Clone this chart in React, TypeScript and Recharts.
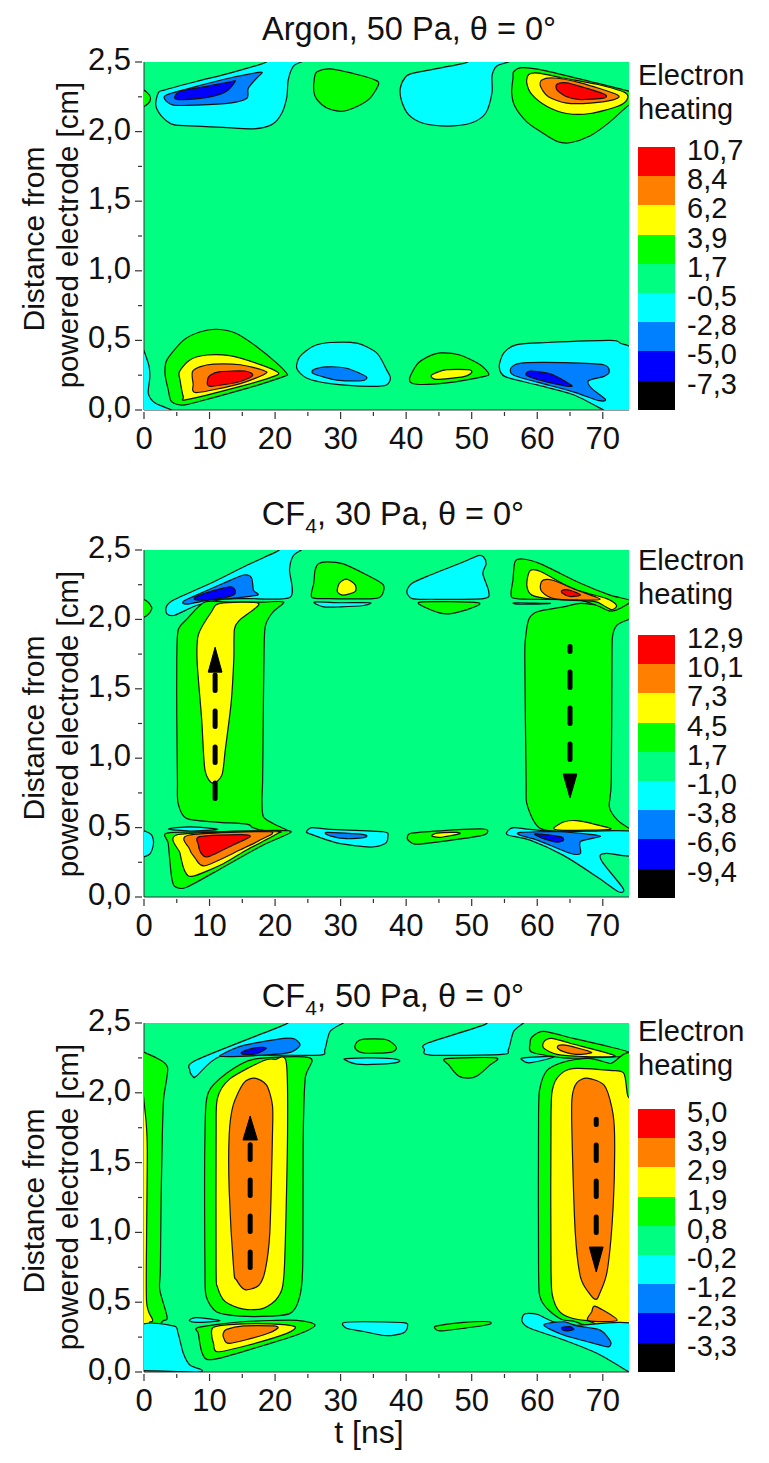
import React from 'react';
import { ScatterChart, Scatter, XAxis, YAxis, CartesianGrid } from 'recharts';

type Pt = [number, number];
type Contour = [number, Pt[]];

// colour bands, top of the legend first
const bandColors = ['#ff0000', '#ff8000', '#ffff00', '#00ff00', '#00ff80', '#00ffff', '#0080ff', '#0000ff', '#000000'];
const RED = 0, ORANGE = 1, YELLOW = 2, GREEN = 3, CYAN = 5, AZURE = 6, BLUE = 7;

const legendArgon = ['10,7', '8,4', '6,2', '3,9', '1,7', '-0,5', '-2,8', '-5,0', '-7,3'];
const legendCf430 = ['12,9', '10,1', '7,3', '4,5', '1,7', '-1,0', '-3,8', '-6,6', '-9,4'];
const legendCf450 = ['5,0', '3,9', '2,9', '1,9', '0,8', '-0,2', '-1,2', '-2,3', '-3,3'];

const xTicks = [0, 5, 10, 15, 20, 25, 30, 35, 40, 45, 50, 55, 60, 65, 70];
const yTicks = [0, 0.25, 0.5, 0.75, 1, 1.25, 1.5, 1.75, 2, 2.25, 2.5];

const argonContours: Contour[] = [
  [GREEN, [[-0.5, 2.3], [0.5, 2.28], [1, 2.24], [0.6, 2.2], [-0.5, 2.18]]],
  [CYAN, [[25, 2.52], [24, 2.5], [22.8, 2.47], [22, 2.37], [21.8, 2.25], [21, 2.13], [19.5, 2.05], [16.7, 2.02], [12.1, 2.03], [8, 2.04], [4.5, 2.05], [2.7, 2.11], [1.8, 2.19], [2.2, 2.28], [3.2, 2.3], [8, 2.36], [13.1, 2.42], [18.2, 2.49], [19.7, 2.52]]],
  [AZURE, [[18, 2.42], [17.2, 2.385], [15.9, 2.31], [15.7, 2.24], [13.1, 2.205], [8, 2.19], [4.5, 2.19], [3.2, 2.23], [3.5, 2.265], [8, 2.325], [13.1, 2.385], [17.5, 2.425]]],
  [BLUE, [[13.9, 2.36], [12.6, 2.29], [10.1, 2.25], [6, 2.23], [4.7, 2.24], [5.5, 2.29], [9.6, 2.325], [13.4, 2.36]]],
  [GREEN, [[26.4, 2.43], [28.4, 2.45], [32.5, 2.41], [35.3, 2.37], [35.8, 2.34], [34.5, 2.24], [32.5, 2.18], [30.2, 2.145], [27.9, 2.17], [26.4, 2.23], [25.9, 2.29], [26, 2.385]]],
  [CYAN, [[56, 2.52], [55.6, 2.5], [53.8, 2.47], [53.1, 2.4], [53.1, 2.28], [52.1, 2.13], [49.8, 2.06], [46.2, 2.04], [42.6, 2.06], [40.4, 2.12], [39.3, 2.22], [39.1, 2.31], [39.8, 2.385], [41.1, 2.42], [48.8, 2.49], [50.3, 2.52]]],
  [GREEN, [[56.4, 2.43], [57.7, 2.46], [61, 2.44], [68.1, 2.36], [74, 2.29], [75, 2.26], [75, 2.17], [74, 2.19], [71.1, 2.07], [68.1, 1.97], [65, 1.92], [63, 1.93], [60.5, 2], [58.4, 2.07], [56.6, 2.18], [56.1, 2.28], [56.3, 2.385]]],
  [YELLOW, [[58.7, 2.41], [60.2, 2.42], [64, 2.385], [69.1, 2.34], [73.4, 2.28], [73.7, 2.23], [72.2, 2.18], [68.1, 2.13], [64.5, 2.13], [61.5, 2.18], [59.2, 2.265], [58.4, 2.35]]],
  [ORANGE, [[60.7, 2.37], [62.5, 2.385], [66.6, 2.35], [72.2, 2.265], [71.7, 2.23], [68.1, 2.205], [64.5, 2.205], [61.7, 2.25], [60.5, 2.325]]],
  [RED, [[63, 2.34], [64.5, 2.35], [67.6, 2.31], [70.4, 2.265], [70.1, 2.24], [66.6, 2.23], [64.5, 2.25], [63, 2.3]]],
  [CYAN, [[-0.5, 0.44], [0.66, 0.335], [0.9, 0.24], [0.66, 0.12], [1.7, 0.05], [4.2, 0], [4.5, -0.03], [-0.5, -0.03]]],
  [GREEN, [[11.1, 0.58], [14.1, 0.55], [17.2, 0.455], [20.3, 0.335], [21.8, 0.26], [21.3, 0.24], [15.7, 0.155], [9.1, 0.07], [6, 0.035], [4.2, 0.06], [3.7, 0.145], [3.2, 0.26], [3.5, 0.36], [6, 0.5], [8.5, 0.56]]],
  [YELLOW, [[9.6, 0.395], [13.1, 0.39], [17.2, 0.335], [20.3, 0.275], [20, 0.245], [14.7, 0.17], [6.5, 0.075], [6, 0.095], [5.5, 0.215], [5.4, 0.275], [7, 0.36]]],
  [ORANGE, [[10.6, 0.33], [14.7, 0.325], [18.2, 0.285], [18.5, 0.26], [14.7, 0.19], [8, 0.125], [7.5, 0.19], [7.4, 0.275], [8.5, 0.31]]],
  [RED, [[11.6, 0.275], [15.4, 0.28], [16.6, 0.25], [14.7, 0.205], [10.1, 0.17], [9.7, 0.215], [10.1, 0.25]]],
  [CYAN, [[28.4, 0.485], [32.5, 0.48], [35.5, 0.41], [37, 0.29], [37.6, 0.23], [37, 0.18], [34.5, 0.17], [28.4, 0.19], [24.8, 0.23], [23.3, 0.3], [23.8, 0.385], [25.9, 0.46]]],
  [AZURE, [[27.9, 0.31], [30.9, 0.3], [33.9, 0.24], [33.2, 0.21], [29.4, 0.215], [25.9, 0.26], [25.9, 0.29]]],
  [GREEN, [[45.2, 0.41], [48.2, 0.395], [51.3, 0.325], [52.6, 0.26], [51.8, 0.24], [46.2, 0.195], [41.6, 0.185], [40.5, 0.22], [41.6, 0.325], [43.2, 0.38]]],
  [YELLOW, [[46.2, 0.29], [49.5, 0.29], [50, 0.27], [48.8, 0.24], [44.7, 0.22], [43.8, 0.245], [44.7, 0.27]]],
  [CYAN, [[56.9, 0.47], [61.5, 0.485], [71.1, 0.5], [72.7, 0.48], [75, 0.4], [75, -0.05], [71, -0.03], [70.1, 0], [65.5, 0.11], [60, 0.18], [55.1, 0.24], [54.2, 0.31], [54.9, 0.41]]],
  [AZURE, [[58.4, 0.34], [64, 0.34], [70.1, 0.325], [71, 0.275], [70.1, 0.24], [67.8, 0.21], [68.3, 0.155], [70.4, 0.077], [69.4, 0.067], [65.5, 0.13], [60, 0.2], [56.4, 0.25], [55.9, 0.29], [56.6, 0.325]]],
  [BLUE, [[58.9, 0.28], [62, 0.26], [64.5, 0.2], [65.3, 0.17], [63.5, 0.18], [60, 0.22], [58.3, 0.25]]],
];

const cf430Contours: Contour[] = [
  [GREEN, [[-0.5, 2.14], [0.5, 2.13], [1.2, 2.08], [0.5, 2.03], [-0.5, 2.02]]],
  [CYAN, [[24.5, 2.53], [24, 2.5], [22.8, 2.46], [22.2, 2.36], [22.3, 2.16], [15.7, 2.15], [12.1, 2.145], [8, 2.1], [4.7, 2.03], [3.5, 2.04], [3.4, 2.09], [4.5, 2.14], [10.6, 2.27], [15.7, 2.39], [20.3, 2.49], [21.5, 2.53]]],
  [AZURE, [[15.2, 2.32], [16.4, 2.3], [16.7, 2.21], [17.3, 2.175], [13.1, 2.15], [10.1, 2.14], [6.5, 2.11], [6, 2.13], [8, 2.175], [12.1, 2.26]]],
  [BLUE, [[13.1, 2.235], [13.9, 2.21], [13.6, 2.175], [10.6, 2.145], [8, 2.14], [7.8, 2.16], [10.1, 2.2]]],
  [GREEN, [[26.6, 2.4], [27.9, 2.415], [30.4, 2.4], [34, 2.32], [36.5, 2.25], [36.3, 2.175], [35, 2.15], [28.4, 2.15], [25.6, 2.16], [25.9, 2.26], [26.1, 2.355]]],
  [YELLOW, [[30.9, 2.29], [32.2, 2.25], [32.2, 2.2], [30.4, 2.175], [29.5, 2.2], [29.8, 2.26]]],
  [CYAN, [[26, 2.125], [30, 2.12], [34.5, 2.12], [33.5, 2.1], [30, 2.09], [27.4, 2.09]]],
  [CYAN, [[51.8, 2.45], [52.2, 2.4], [51.7, 2.33], [52.6, 2.2], [51.8, 2.15], [43.7, 2.145], [40.9, 2.15], [40.1, 2.2], [40.9, 2.26], [43.7, 2.32], [48.8, 2.415], [51, 2.46]]],
  [GREEN, [[42.1, 2.125], [51, 2.12], [49.3, 2.07], [46.2, 2.04], [43.7, 2.07]]],
  // right column first, the upper lobe sits on top of it
  [GREEN, [[66.6, 2.115], [64, 2.09], [60, 2.055], [58.7, 2], [58.2, 1.86], [58.1, 1.71], [58.3, 0.84], [58.4, 0.675], [59.7, 0.53], [61.5, 0.48], [69.1, 0.465], [75, 0.475], [74, 0.495], [72.2, 0.555], [71, 0.65], [71.3, 0.84], [71.4, 1.71], [71.5, 1.88], [72.2, 1.96], [74, 2], [75, 2.02], [75, 2.12], [72.7, 2.1], [70, 2.1]]],
  [GREEN, [[56.6, 2.415], [57.7, 2.435], [60.5, 2.4], [66.6, 2.26], [71.1, 2.175], [74.2, 2.135], [72.7, 2.08], [71.1, 2.06], [69.1, 2.1], [66.1, 2.14], [58.9, 2.145], [56.1, 2.16], [56.3, 2.285]]],
  [YELLOW, [[58.9, 2.35], [60.5, 2.345], [65.5, 2.22], [70.6, 2.15], [72.1, 2.1], [71.4, 2.07], [70.1, 2.1], [68.6, 2.13], [62.5, 2.145], [59.2, 2.175], [58.4, 2.25]]],
  [ORANGE, [[61, 2.285], [62.5, 2.28], [66.1, 2.21], [69.6, 2.145], [66.1, 2.14], [62.5, 2.15], [60.7, 2.2], [60.5, 2.25]]],
  [RED, [[63.8, 2.21], [65, 2.21], [66.6, 2.175], [65, 2.165], [63.8, 2.19]]],
  [CYAN, [[56.6, 2.12], [62, 2.115], [59, 2.11], [56.9, 2.11]]],
  // left column
  [GREEN, [[9.3, 2.125], [13.1, 2.125], [18, 2.125], [21.3, 2.125], [19.7, 2.055], [18.5, 1.95], [18.3, 1.71], [18.2, 1.3], [18.1, 0.84], [18, 0.7], [18.2, 0.58], [19.7, 0.53], [22.3, 0.465], [18.2, 0.48], [16.6, 0.5], [15.7, 0.525], [11.1, 0.54], [6.5, 0.565], [5.2, 0.675], [5.1, 0.84], [5, 1.3], [5, 1.71], [5.2, 1.92], [6.5, 2]]],
  [YELLOW, [[11.6, 2.115], [17.5, 2.115], [14.7, 2], [13.8, 1.93], [13.7, 1.71], [13.3, 1.4], [12.4, 1.06], [11.9, 0.88], [10.5, 0.82], [9.3, 0.915], [8.8, 1.28], [8.1, 1.7], [8.3, 1.89], [10.3, 2.055]]],
  [GREEN, [[3.5, 0.46], [10.6, 0.47], [20.3, 0.48], [22.4, 0.465], [18.2, 0.375], [12.1, 0.215], [6.5, 0.07], [4.7, 0.075], [4.2, 0.146], [3.7, 0.385]]],
  [YELLOW, [[5.2, 0.45], [19.7, 0.47], [20.3, 0.455], [15.7, 0.34], [12.1, 0.24], [7.5, 0.15], [6.3, 0.18], [5.5, 0.315]]],
  [ORANGE, [[6.8, 0.445], [19.2, 0.47], [17.7, 0.41], [14.7, 0.34], [9.3, 0.225], [7.8, 0.28], [6.9, 0.35]]],
  [RED, [[8.5, 0.435], [14.7, 0.45], [16.2, 0.435], [13.6, 0.375], [9.8, 0.29], [8.8, 0.31], [8.3, 0.375]]],
  [CYAN, [[-0.5, 0.47], [1.1, 0.45], [1.45, 0.385], [0.9, 0.31], [-0.5, 0.3]]],
  [CYAN, [[3.7, 0.49], [7, 0.505], [11.3, 0.487], [7, 0.475]]],
  [CYAN, [[25.6, 0.5], [28.4, 0.487], [36.5, 0.47], [37.2, 0.435], [36.8, 0.385], [34.5, 0.36], [29.4, 0.39], [25.3, 0.455], [24.8, 0.47]]],
  [AZURE, [[27.9, 0.465], [33.5, 0.45], [33.7, 0.43], [30.9, 0.42], [28.4, 0.44]]],
  [GREEN, [[40.9, 0.46], [46.2, 0.48], [51.8, 0.49], [52.4, 0.465], [51.3, 0.44], [46.2, 0.405], [41.6, 0.38], [40.4, 0.405], [40.2, 0.435]]],
  [YELLOW, [[44.7, 0.46], [47.7, 0.465], [48.1, 0.455], [45.2, 0.43], [43.9, 0.44]]],
  [YELLOW, [[62.5, 0.495], [64, 0.54], [66, 0.55], [69.1, 0.52], [71.1, 0.487], [64, 0.48]]],
  [CYAN, [[55.4, 0.47], [56.4, 0.5], [58.9, 0.487], [64, 0.47], [75, 0.47], [75, 0.3], [70.6, 0.315], [69.6, 0.3], [70.1, 0.24], [73.1, 0.062], [72.4, 0.038], [69.1, 0.146], [64, 0.3], [58.9, 0.41], [55.6, 0.445]]],
  [AZURE, [[57.4, 0.465], [63.5, 0.47], [69.6, 0.44], [66.6, 0.4], [66.6, 0.315], [65, 0.315], [60, 0.41], [57.4, 0.445]]],
  [BLUE, [[59.7, 0.455], [63.5, 0.435], [64, 0.41], [63, 0.395], [60.5, 0.43]]],
];

const cf450Contours: Contour[] = [
  [GREEN, [[-0.5, 2.3], [0, 2.29], [1.9, 2.25], [3.6, 2.18], [3, 1.96], [2.8, 1.7], [2.6, 1.2], [2.5, 0.73], [2.4, 0.59], [3.5, 0.4], [3, 0.37], [-0.5, 0.355]]],
  [YELLOW, [[-0.5, 1.98], [0.2, 1.85], [0.5, 1.6], [0.4, 1], [0.4, 0.5], [1.3, 0.375], [0.9, 0.36], [-0.5, 0.355]]],
  [CYAN, [[-0.5, 0.33], [4.5, 0.33], [5.2, 0.277], [6, 0.134], [7, 0.05], [8.8, 0.015], [8, 0], [0, 0.01], [-0.5, 0.01]]],
  [CYAN, [[31, 2.53], [30.4, 2.5], [28.4, 2.44], [27.6, 2.31], [26.9, 2.27], [19, 2.27], [11.6, 2.26], [8, 2.12], [7.5, 2.115], [7, 2.16], [8, 2.235], [21.3, 2.485], [22.5, 2.52]]],
  [AZURE, [[21.3, 2.39], [23, 2.385], [23.8, 2.34], [22.3, 2.29], [18.2, 2.27], [12.1, 2.26], [11.9, 2.275], [15.2, 2.34]]],
  [BLUE, [[18.2, 2.325], [18.6, 2.315], [17.2, 2.28], [15.2, 2.275], [14.9, 2.29], [16.7, 2.32]]],
  [GREEN, [[33.5, 2.385], [37, 2.38], [38.5, 2.325], [37.6, 2.29], [33.5, 2.285], [32.2, 2.32], [32.5, 2.365]]],
  [CYAN, [[30.9, 2.245], [35, 2.25], [38.6, 2.24], [38.8, 2.22], [36, 2.205], [32.5, 2.205], [30.7, 2.235]]],
  [CYAN, [[58.5, 2.53], [57.9, 2.5], [56.4, 2.44], [55.6, 2.31], [54.6, 2.275], [43.7, 2.27], [42.8, 2.31], [43.2, 2.355], [51.8, 2.485], [53, 2.53]]],
  [GREEN, [[46.1, 2.245], [53.7, 2.25], [52.8, 2.2], [50.8, 2.12], [49.5, 2.105], [48, 2.12], [46.5, 2.2]]],
  [GREEN, [[59.2, 2.4], [61, 2.44], [65.5, 2.39], [71, 2.33], [74, 2.29], [72.7, 2.26], [67.8, 2.25], [64, 2.25], [59.2, 2.29], [58.9, 2.35]]],
  [YELLOW, [[61, 2.365], [62.2, 2.39], [65, 2.355], [71.9, 2.265], [67, 2.26], [63, 2.275], [61, 2.32]]],
  [ORANGE, [[63.3, 2.34], [64.5, 2.34], [68.3, 2.29], [66, 2.275], [64, 2.295], [63.1, 2.32]]],
  [CYAN, [[57.9, 2.25], [62.5, 2.26], [61, 2.235], [58.7, 2.215], [57.7, 2.235]]],
  // left column
  [GREEN, [[16.7, 2.24], [25.3, 2.25], [24.6, 2.105], [24.3, 1.7], [24.2, 0.73], [23.6, 0.515], [22.3, 0.42], [19.2, 0.4], [14.7, 0.4], [11.1, 0.43], [9.5, 0.54], [9.3, 0.73], [9.3, 1.7], [9.8, 2], [12.6, 2.14]]],
  [YELLOW, [[20, 2.24], [21.7, 2.22], [21.9, 1.7], [21.4, 0.73], [20.5, 0.54], [18.2, 0.456], [15.2, 0.45], [12.4, 0.504], [11.2, 0.61], [11, 0.73], [11, 1.7], [11.2, 1.96], [13.1, 2.1], [18.2, 2.23]]],
  [ORANGE, [[16.9, 2.105], [18.7, 2.055], [19.6, 1.91], [19.6, 1.7], [19.2, 1], [18.5, 0.73], [17.5, 0.62], [15.4, 0.59], [14.1, 0.66], [13.7, 0.73], [13, 1.3], [13, 1.7], [13.6, 1.91], [15.2, 2.07]]],
  [CYAN, [[6.9, 0.37], [8, 0.39], [11.6, 0.368], [8, 0.355]]],
  [GREEN, [[8.3, 0.32], [15, 0.36], [23.3, 0.37], [26.1, 0.335], [23.3, 0.265], [18.2, 0.19], [12.1, 0.105], [9.6, 0.09], [8.8, 0.145], [8.3, 0.275]]],
  [YELLOW, [[10.6, 0.32], [13.1, 0.34], [19.2, 0.345], [23, 0.325], [21.8, 0.277], [15.7, 0.19], [11.2, 0.145], [10.6, 0.205], [10.3, 0.277]]],
  [ORANGE, [[12.6, 0.305], [15.2, 0.33], [19.7, 0.33], [20.4, 0.313], [18.2, 0.265], [13.1, 0.205], [12.2, 0.24], [12.1, 0.277]]],
  [CYAN, [[30.4, 0.353], [33.5, 0.36], [39.6, 0.353], [40.2, 0.325], [39.6, 0.28], [37, 0.26], [33.5, 0.29], [30.9, 0.313]]],
  [GREEN, [[44.7, 0.33], [48.8, 0.355], [52.6, 0.36], [52.6, 0.34], [48.8, 0.313], [45.2, 0.294], [44.4, 0.313]]],
  // right column
  [GREEN, [[75, 2.17], [71.1, 2.21], [67.8, 2.247], [64, 2.22], [61.5, 2.16], [60.4, 2.03], [60.2, 1.84], [60.2, 0.73], [60.6, 0.515], [63, 0.395], [65.5, 0.365], [75, 0.36]]],
  [YELLOW, [[66, 2.175], [71.1, 2.16], [73.2, 2.14], [73.8, 1.98], [75, 1.8], [75, 0.365], [67.6, 0.368], [64, 0.41], [62.5, 0.515], [62.1, 0.73], [62.1, 1.84], [62.5, 2.055], [64, 2.15]]],
  [ORANGE, [[67.6, 2.105], [70.2, 2.055], [71.4, 1.89], [71.8, 1.7], [71.6, 1.2], [70.7, 0.73], [69.5, 0.56], [69, 0.52], [68, 0.56], [66.6, 0.68], [65.8, 1], [65.3, 1.7], [65.3, 1.96], [66, 2.07]]],
  [ORANGE, [[68.9, 0.47], [72.2, 0.37], [67.8, 0.368], [68.3, 0.43]]],
  [CYAN, [[58.7, 0.42], [60.2, 0.41], [62.5, 0.36], [66, 0.335], [75, 0.335], [75, -0.03], [74, 0], [69.1, 0.134], [64, 0.23], [58.9, 0.313], [57.7, 0.36], [57.9, 0.41]]],
  [AZURE, [[61, 0.337], [64, 0.36], [66, 0.33], [69.6, 0.3], [71.2, 0.217], [70.9, 0.18], [69.6, 0.193], [64, 0.265]]],
  [BLUE, [[63.8, 0.32], [65, 0.325], [65.6, 0.305], [64.5, 0.295], [63.8, 0.305]]],
];

// dashed arrows: shaft (dash pattern runs up from the low end), then the head as a triangle
const cf430Shafts: Pt[][] = [[[10.85, 0.71], [10.85, 1.6]], [[65, 0.99], [65, 1.805]]];
const cf430Heads: Pt[][] = [[[10.85, 1.8], [11.9, 1.62], [9.8, 1.62]], [[65, 0.713], [66.05, 0.886], [63.95, 0.886]]];
const cf450Shafts: Pt[][] = [[[16.2, 0.749], [16.2, 1.627]], [[69, 1], [69, 1.81]]];
const cf450Heads: Pt[][] = [[[16.2, 1.834], [17.3, 1.662], [15.1, 1.662]], [[69, 0.716], [70.05, 0.895], [67.95, 0.895]]];

// closed curve through every point; recharts has no cardinal-closed of its own
const smoothClosed = (ctx: any) => {
  let pts: Pt[] = [];
  return {
    areaStart() {},
    areaEnd() {},
    lineStart() {
      pts = [];
    },
    point(x: number, y: number) {
      pts.push([x, y]);
    },
    lineEnd() {
      const n = pts.length;
      const k = 0.8 / 6;
      ctx.moveTo(pts[0][0], pts[0][1]);
      for (let i = 0; i < n; i++) {
        const p0 = pts[(i - 1 + n) % n];
        const p1 = pts[i];
        const p2 = pts[(i + 1) % n];
        const p3 = pts[(i + 2) % n];
        ctx.bezierCurveTo(
          p1[0] + (p2[0] - p0[0]) * k,
          p1[1] + (p2[1] - p0[1]) * k,
          p2[0] - (p3[0] - p1[0]) * k,
          p2[1] - (p3[1] - p1[1]) * k,
          p2[0],
          p2[1]
        );
      }
      ctx.closePath();
    },
  };
};

const FONT = '"Liberation Sans", Arial, sans-serif';
const AXIS = '#333';
const hideDot = () => <g />;
const toRows = (pts: Pt[]) => pts.map(([t, d]) => ({ t, d }));

const XTick = ({ x, y, payload }: any) => {
  const major = payload.value % 10 === 0;
  return (
    <g>
      <line x1={x} x2={x} y1={y} y2={y + (major ? 7 : 4)} stroke={AXIS} strokeWidth={1.2} />
      {major && (
        <text x={x} y={y + 37} textAnchor="middle" fontSize={31} fontFamily={FONT} fill="#111">
          {payload.value}
        </text>
      )}
    </g>
  );
};

const YTick = ({ x, y, payload }: any) => {
  const major = Math.abs(payload.value * 2 - Math.round(payload.value * 2)) < 1e-6;
  return (
    <g>
      <line x1={x} x2={x - (major ? 7 : 4)} y1={y} y2={y} stroke={AXIS} strokeWidth={1.2} />
      {major && (
        <text x={x - 11} y={y + 8} textAnchor="end" fontSize={31} fontFamily={FONT} fill="#111">
          {payload.value.toFixed(1).replace('.', ',')}
        </text>
      )}
    </g>
  );
};

interface PanelProps {
  top: number;
  plotHeight: number;
  contours: Contour[];
  shafts?: Pt[][];
  heads?: Pt[][];
}

const PLOT_MARGIN_TOP = 20;

const Panel: React.FC<PanelProps> = ({ top, plotHeight, contours, shafts = [], heads = [] }) => (
  <div style={{ position: 'absolute', left: 0, top: top - PLOT_MARGIN_TOP }}>
    <ScatterChart
      width={769}
      height={plotHeight + PLOT_MARGIN_TOP + 50}
      margin={{ top: PLOT_MARGIN_TOP, right: 140, bottom: 0, left: 0 }}
    >
      <CartesianGrid horizontal={false} vertical={false} fill="#00ff80" />
      {contours.map(([band, pts], i) => (
        <Scatter
          key={i}
          data={toRows(pts)}
          isAnimationActive={false}
          shape={hideDot}
          legendType="none"
          fill={bandColors[band]}
          line={{ fill: bandColors[band], stroke: '#111', strokeWidth: 1.2 }}
          lineJointType={smoothClosed as any}
        />
      ))}
      {shafts.map((pts, i) => (
        <Scatter
          key={`shaft-${i}`}
          data={toRows(pts)}
          isAnimationActive={false}
          shape={hideDot}
          legendType="none"
          line={{ fill: 'none', stroke: '#000', strokeWidth: 5, strokeDasharray: '15.5 20.5', strokeLinecap: 'round' }}
          lineJointType="linear"
        />
      ))}
      {heads.map((pts, i) => (
        <Scatter
          key={`head-${i}`}
          data={toRows(pts)}
          isAnimationActive={false}
          shape={hideDot}
          legendType="none"
          line={{ fill: '#000', stroke: '#000', strokeWidth: 1 }}
          lineJointType="linearClosed"
        />
      ))}
      <XAxis
        type="number"
        dataKey="t"
        domain={[0, 74]}
        allowDataOverflow
        ticks={xTicks}
        interval={0}
        height={50}
        tickSize={0}
        tickLine={false}
        tick={XTick}
        stroke={AXIS}
      />
      <YAxis
        type="number"
        dataKey="d"
        domain={[0, 2.5]}
        allowDataOverflow
        ticks={yTicks}
        interval={0}
        width={144}
        tickSize={0}
        tickLine={false}
        tick={YTick}
        stroke={AXIS}
      />
      <XAxis xAxisId="frame" orientation="top" type="number" domain={[0, 74]} height={0} tick={false} tickLine={false} stroke={AXIS} />
      <YAxis yAxisId="frame" orientation="right" type="number" domain={[0, 2.5]} width={0} tick={false} tickLine={false} stroke={AXIS} />
    </ScatterChart>
  </div>
);

const text = (style: React.CSSProperties): React.CSSProperties => ({
  position: 'absolute',
  fontFamily: FONT,
  color: '#111',
  whiteSpace: 'nowrap',
  lineHeight: 1,
  ...style,
});

const Title: React.FC<{ cx: number; cy: number; children: React.ReactNode }> = ({ cx, cy, children }) => (
  <div style={text({ left: cx, top: cy - 17, fontSize: 32.5, transform: 'translateX(-50%)' })}>{children}</div>
);

const YTitle: React.FC<{ cy: number }> = ({ cy }) => (
  <>
    <div style={text({ left: 34, top: cy + 4, fontSize: 30, transform: 'translate(-50%, -50%) rotate(-90deg)' })}>Distance from</div>
    <div style={text({ left: 68, top: cy, fontSize: 29.5, transform: 'translate(-50%, -50%) rotate(-90deg)' })}>powered electrode [cm]</div>
  </>
);

const BandLegend: React.FC<{ titleTop: number; boxTop: number; labels: string[] }> = ({ titleTop, boxTop, labels }) => (
  <>
    <div style={text({ left: 638, top: titleTop, fontSize: 29 })}>Electron</div>
    <div style={text({ left: 638, top: titleTop + 34, fontSize: 29 })}>heating</div>
    {labels.map((label, i) => (
      <React.Fragment key={label}>
        <div style={{ position: 'absolute', left: 638, top: boxTop + i * 29.2, width: 37, height: 29.2, background: bandColors[i] }} />
        <div style={text({ left: 687, top: boxTop + i * 29.2 - 11, fontSize: 29 })}>{label}</div>
      </React.Fragment>
    ))}
  </>
);

const CF4 = () => (
  <>
    CF<sub style={{ fontSize: 21, lineHeight: 0 }}>4</sub>
  </>
);

export default function App() {
  return (
    <div style={{ position: 'absolute', left: 0, top: 0, width: 769, height: 1463, background: '#fff', overflow: 'hidden' }}>
      <Title cx={409} cy={30}>Argon, 50 Pa, θ = 0°</Title>
      <YTitle cy={235} />
      <Panel top={62} plotHeight={348} contours={argonContours} />
      <BandLegend titleTop={61} boxTop={147} labels={legendArgon} />

      <Title cx={393} cy={515}>
        <CF4 />, 30 Pa, θ = 0°
      </Title>
      <YTitle cy={724} />
      <Panel top={550} plotHeight={347} contours={cf430Contours} shafts={cf430Shafts} heads={cf430Heads} />
      <BandLegend titleTop={546} boxTop={635} labels={legendCf430} />

      <Title cx={393} cy={997}>
        <CF4 />, 50 Pa, θ = 0°
      </Title>
      <YTitle cy={1197} />
      <Panel top={1023} plotHeight={349} contours={cf450Contours} shafts={cf450Shafts} heads={cf450Heads} />
      <BandLegend titleTop={1017} boxTop={1109} labels={legendCf450} />

      <div style={text({ left: 369, top: 1416, fontSize: 32, transform: 'translateX(-50%)' })}>t [ns]</div>
    </div>
  );
}
